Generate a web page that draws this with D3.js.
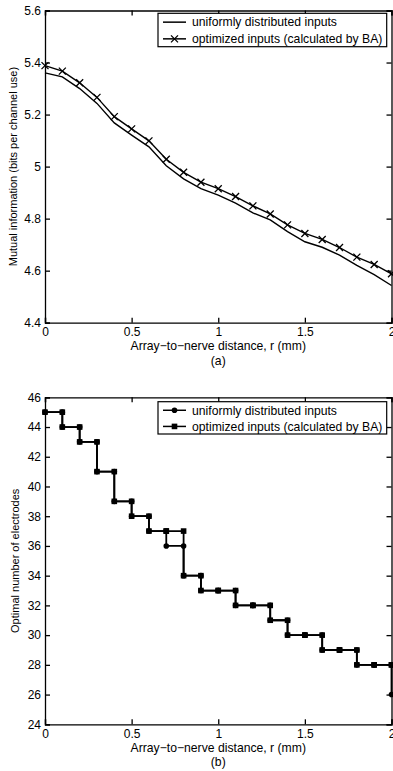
<!DOCTYPE html>
<html>
<head>
<meta charset="utf-8">
<script src="https://cdn.jsdelivr.net/npm/d3@7"></script>
<style>
  body { margin: 0; background: #fff; }
  svg text { font-family: "Liberation Sans", Arial, Helvetica, sans-serif; fill: #000; }
  .axis path, .axis line { stroke: #000; stroke-width: 1.3; }
</style>
</head>
<body>
<div id="chart"></div>
<script>
// distances r (mm)
const distances = [0, 0.1, 0.2, 0.3, 0.4, 0.5, 0.6, 0.7, 0.8, 0.9, 1.0, 1.1, 1.2, 1.3, 1.4, 1.5, 1.6, 1.7, 1.8, 1.9, 2.0];

// (a) mutual information
const miUniform = [5.36, 5.345, 5.30, 5.243, 5.168, 5.121, 5.076, 5.003, 4.953, 4.915, 4.89, 4.86, 4.822, 4.795, 4.75, 4.711, 4.69, 4.66, 4.62, 4.585, 4.543];
const miOptimized = [5.388, 5.367, 5.322, 5.266, 5.192, 5.145, 5.099, 5.028, 4.978, 4.94, 4.915, 4.885, 4.849, 4.818, 4.776, 4.743, 4.72, 4.689, 4.652, 4.624, 4.588];

// (b) optimal number of electrodes
const elUniform = [45, 44, 43, 41, 39, 38, 37, 36, 34, 33, 33, 32, 32, 31, 30, 30, 29, 29, 28, 28, 26];
const elOptimized = [45, 44, 43, 41, 39, 38, 37, 37, 34, 33, 33, 32, 32, 31, 30, 30, 29, 29, 28, 28, 28];

const xTicks = [0, 0.5, 1, 1.5, 2];
const miTicks = [4.4, 4.6, 4.8, 5, 5.2, 5.4, 5.6];
const elTicks = [24, 26, 28, 30, 32, 34, 36, 38, 40, 42, 44, 46];

const legendLabels = ["uniformly distributed inputs", "optimized inputs (calculated by BA)"];

const svg = d3.select("#chart")
    .append("svg")
    .attr("width", 393)
    .attr("height", 771);

function drawFrame(x, y, yTicks, yFmt) {
    const [x0, x1] = x.range();
    const [y0, y1] = y.range();
    const g = svg.append("g");
    // bottom
    g.append("g").attr("class", "axis").attr("transform", `translate(0,${y0})`)
        .call(d3.axisBottom(x).tickValues(xTicks).tickSize(-5).tickPadding(5).tickFormat(d3.format("")))
        .call(s => s.selectAll("text").attr("font-size", 12).attr("dy", "0.72em"));
    // top
    g.append("g").attr("class", "axis").attr("transform", `translate(0,${y1})`)
        .call(d3.axisTop(x).tickValues(xTicks).tickSize(-5).tickFormat(""));
    // left
    g.append("g").attr("class", "axis").attr("transform", `translate(${x0},0)`)
        .call(d3.axisLeft(y).tickValues(yTicks).tickSize(-5).tickPadding(4).tickFormat(yFmt))
        .call(s => s.selectAll("text").attr("font-size", 12));
    // right
    g.append("g").attr("class", "axis").attr("transform", `translate(${x1},0)`)
        .call(d3.axisRight(y).tickValues(yTicks).tickSize(-5).tickFormat(""));
    g.selectAll(".domain").attr("stroke-width", 1.3);
    return g;
}

function drawXLabels(x, yPos, tag) {
    const cx = (x.range()[0] + x.range()[1]) / 2;
    svg.append("text").attr("x", cx).attr("y", yPos)
        .attr("text-anchor", "middle").attr("font-size", 12.2)
        .text("Array\u2212to\u2212nerve distance, r (mm)");
    svg.append("text").attr("x", cx).attr("y", yPos + 14.5)
        .attr("text-anchor", "middle").attr("font-size", 12.2)
        .text(tag);
}

function drawYLabel(xPos, y, label) {
    const cy = (y.range()[0] + y.range()[1]) / 2;
    svg.append("text")
        .attr("transform", `translate(${xPos},${cy}) rotate(-90)`)
        .attr("text-anchor", "middle").attr("font-size", 11)
        .text(label);
}

const crossPath = "M-3.5,-3.5L3.5,3.5M-3.5,3.5L3.5,-3.5";

function drawLegend(left, top, right, bottom, kinds) {
    const g = svg.append("g");
    g.append("rect").attr("x", left).attr("y", top)
        .attr("width", right - left).attr("height", bottom - top)
        .attr("fill", "#fff").attr("stroke", "#000").attr("stroke-width", 1.2);
    const rowH = (bottom - top) / 2;
    legendLabels.forEach((lab, i) => {
        const cy = top + rowH * (i + 0.5) + 0.5;
        g.append("line").attr("x1", left + 5).attr("x2", left + 28)
            .attr("y1", cy).attr("y2", cy).attr("stroke", "#000").attr("stroke-width", 1.5);
        const mx = left + 16.5;
        if (kinds[i] === "cross") {
            g.append("path").attr("d", crossPath).attr("transform", `translate(${mx},${cy})`)
                .attr("stroke", "#000").attr("stroke-width", 1.3).attr("fill", "none");
        } else if (kinds[i] === "circle") {
            g.append("circle").attr("cx", mx).attr("cy", cy).attr("r", 2.8).attr("fill", "#000");
        } else if (kinds[i] === "square") {
            g.append("rect").attr("x", mx - 2.8).attr("y", cy - 2.8).attr("width", 5.6).attr("height", 5.6).attr("fill", "#000");
        }
        g.append("text").attr("x", left + 34).attr("y", cy).attr("dy", "0.35em")
            .attr("font-size", 12.2).text(lab);
    });
}

// ---------- panel (a) ----------
const xA = d3.scaleLinear().domain([0, 2]).range([45, 391.5]);
const yA = d3.scaleLinear().domain([4.4, 5.6]).range([322.7, 10.5]);

drawFrame(xA, yA, miTicks, d3.format(""));

const lineA = d3.line().x((d, i) => xA(distances[i])).y(d => yA(d));

svg.append("path").datum(miUniform)
    .attr("d", lineA).attr("fill", "none").attr("stroke", "#000").attr("stroke-width", 1.4);
svg.append("path").datum(miOptimized)
    .attr("d", lineA).attr("fill", "none").attr("stroke", "#000").attr("stroke-width", 1.4);
svg.selectAll("path.xmark").data(miOptimized).enter()
    .append("path").attr("class", "xmark")
    .attr("d", crossPath)
    .attr("transform", (d, i) => `translate(${xA(distances[i])},${yA(d)})`)
    .attr("stroke", "#000").attr("stroke-width", 1.3).attr("fill", "none");

drawLegend(158, 13.3, 386.7, 46.7, ["none", "cross"]);
drawXLabels(xA, 350, "(a)");
drawYLabel(17, yA, "Mutual information (bits per channel use)");

// ---------- panel (b) ----------
const xB = d3.scaleLinear().domain([0, 2]).range([45, 391.5]);
const yB = d3.scaleLinear().domain([24, 46]).range([724.3, 397.3]);

drawFrame(xB, yB, elTicks, d3.format(""));

// stairs vertices (MATLAB-style: markers on each corner)
function stairs(vals) {
    const pts = [];
    vals.forEach((v, i) => {
        if (i > 0) pts.push([distances[i], vals[i - 1]]);
        pts.push([distances[i], v]);
    });
    return pts;
}

const lineB = d3.line().x(d => xB(d[0])).y(d => yB(d[1]));

const uniPts = stairs(elUniform);
const optPts = stairs(elOptimized);

svg.append("path").datum(uniPts)
    .attr("d", lineB).attr("fill", "none").attr("stroke", "#000").attr("stroke-width", 1.8);
svg.selectAll("circle.umark").data(uniPts).enter()
    .append("circle").attr("class", "umark")
    .attr("cx", d => xB(d[0])).attr("cy", d => yB(d[1])).attr("r", 2.8).attr("fill", "#000");

svg.append("path").datum(optPts)
    .attr("d", lineB).attr("fill", "none").attr("stroke", "#000").attr("stroke-width", 1.8);
svg.selectAll("rect.omark").data(optPts).enter()
    .append("rect").attr("class", "omark")
    .attr("x", d => xB(d[0]) - 2.8).attr("y", d => yB(d[1]) - 2.8)
    .attr("width", 5.6).attr("height", 5.6).attr("fill", "#000");

drawLegend(158, 401.7, 386.7, 434, ["circle", "square"]);
drawXLabels(xB, 751.5, "(b)");
drawYLabel(19, yB, "Optimal number of electrodes");
</script>
</body>
</html>
